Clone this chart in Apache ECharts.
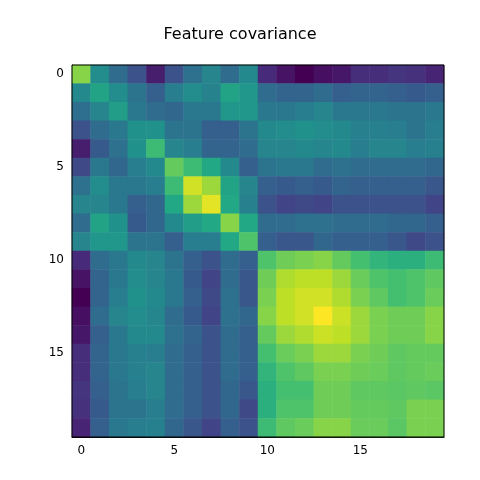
<!DOCTYPE html>
<html><head><meta charset="utf-8">
<script src="https://cdn.jsdelivr.net/npm/echarts@6/dist/echarts.min.js"></script>
<style>html,body{margin:0;padding:0;background:#fff}#c{width:480px;height:480px}</style>
</head><body><div id="c"></div>
<script>
const labels = Array.from({length:20},(_,i)=>String(i));
const topLeft = [
[0.82,0.48,0.35,0.25,0.08,0.25,0.37,0.45,0.35,0.47],
[0.47,0.58,0.48,0.38,0.30,0.42,0.48,0.44,0.58,0.52],
[0.36,0.45,0.55,0.40,0.35,0.33,0.40,0.40,0.52,0.52],
[0.25,0.35,0.40,0.50,0.50,0.38,0.38,0.30,0.30,0.38],
[0.08,0.28,0.37,0.50,0.68,0.45,0.42,0.32,0.32,0.35],
[0.22,0.40,0.33,0.42,0.47,0.76,0.68,0.60,0.47,0.30],
[0.37,0.48,0.40,0.40,0.42,0.68,0.93,0.85,0.58,0.45],
[0.45,0.45,0.40,0.30,0.33,0.60,0.85,0.96,0.60,0.43],
[0.35,0.58,0.50,0.28,0.33,0.47,0.55,0.60,0.82,0.60],
[0.45,0.52,0.52,0.38,0.38,0.30,0.42,0.42,0.60,0.72]];
const topRight = [
[0.12,0.05,0.00,0.04,0.06,0.13,0.13,0.15,0.14,0.10],
[0.35,0.32,0.32,0.35,0.30,0.32,0.32,0.30,0.28,0.30],
[0.40,0.40,0.42,0.45,0.40,0.40,0.40,0.38,0.38,0.40],
[0.47,0.48,0.50,0.48,0.47,0.43,0.43,0.42,0.38,0.42],
[0.45,0.45,0.47,0.46,0.47,0.42,0.45,0.45,0.42,0.43],
[0.38,0.40,0.40,0.35,0.37,0.35,0.35,0.35,0.35,0.33],
[0.30,0.28,0.30,0.28,0.32,0.30,0.30,0.30,0.30,0.27],
[0.25,0.20,0.22,0.20,0.25,0.25,0.25,0.25,0.25,0.20],
[0.35,0.35,0.37,0.37,0.35,0.35,0.35,0.33,0.33,0.30],
[0.30,0.27,0.27,0.33,0.30,0.30,0.30,0.27,0.22,0.25]];
const bottomRight = [
[0.72,0.78,0.80,0.82,0.76,0.70,0.65,0.63,0.63,0.68],
[0.78,0.88,0.90,0.90,0.85,0.77,0.72,0.70,0.72,0.75],
[0.80,0.90,0.93,0.93,0.88,0.80,0.75,0.70,0.72,0.77],
[0.82,0.90,0.93,1.00,0.92,0.85,0.80,0.78,0.78,0.82],
[0.76,0.85,0.88,0.92,0.90,0.85,0.80,0.78,0.78,0.82],
[0.70,0.77,0.80,0.85,0.85,0.80,0.78,0.75,0.76,0.76],
[0.65,0.72,0.75,0.80,0.80,0.78,0.77,0.75,0.76,0.77],
[0.63,0.70,0.70,0.78,0.78,0.75,0.75,0.74,0.75,0.74],
[0.63,0.72,0.72,0.78,0.78,0.76,0.76,0.75,0.80,0.80],
[0.68,0.75,0.77,0.82,0.82,0.77,0.77,0.74,0.80,0.80]];
const data = [];
for (let r=0;r<20;r++) for (let c=0;c<20;c++){
  let v;
  if (r<10 && c<10) v = topLeft[r][c];
  else if (r<10) v = topRight[r][c-10];
  else if (c<10) v = topRight[c][r-10];
  else v = bottomRight[r-10][c-10];
  data.push([c,r,v]);
}
const show = i => i%5===0;
const ch = echarts.init(document.getElementById('c'));
ch.setOption({
  animation:false,
  title:{text:'Feature covariance',left:'center',top:22,textStyle:{fontFamily:'DejaVu Sans',fontWeight:'normal',fontSize:16,color:'#000'}},
  grid:{left:72,top:65,width:372,height:372,show:true,borderColor:'#000',borderWidth:1,backgroundColor:'transparent',z:10},
  xAxis:{type:'category',data:labels,position:'bottom',axisLine:{lineStyle:{color:'#000'}},
    axisTick:{alignWithLabel:true,interval:show,length:4,lineStyle:{color:'#000'}},
    axisLabel:{interval:show,color:'#000',fontFamily:'DejaVu Sans',fontSize:12},splitLine:{show:false}},
  yAxis:{type:'category',data:labels,inverse:true,axisLine:{lineStyle:{color:'#000'}},
    axisTick:{alignWithLabel:true,interval:show,length:4,lineStyle:{color:'#000'}},
    axisLabel:{interval:show,color:'#000',fontFamily:'DejaVu Sans',fontSize:12},splitLine:{show:false}},
  visualMap:{show:false,min:0,max:1,inRange:{color:['#440154','#482475','#414487','#355f8d','#2a788e','#21918c','#22a884','#44bf70','#7ad151','#bddf26','#fde725']}},
  series:[{type:'heatmap',data:data,itemStyle:{borderWidth:0}}]
});
</script></body></html>
